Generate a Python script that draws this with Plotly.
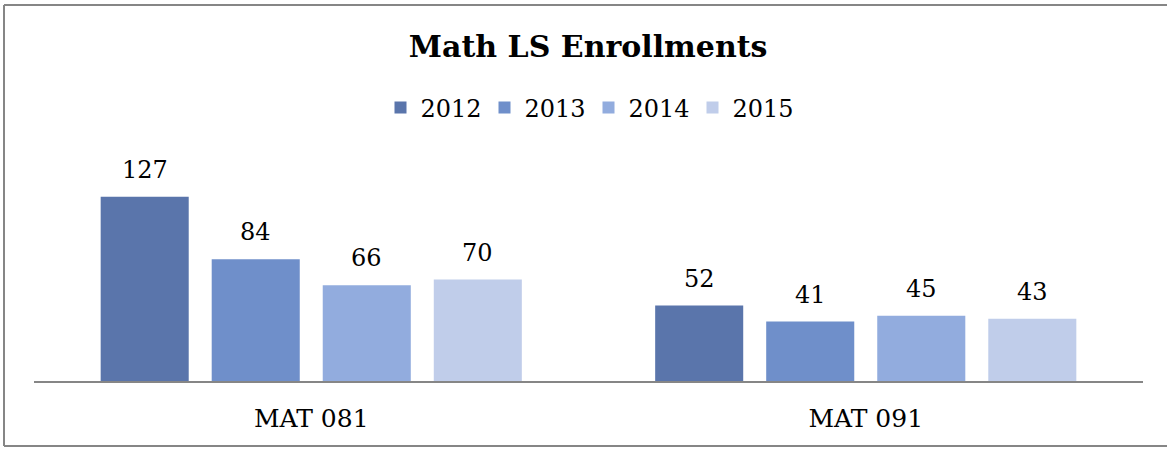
import plotly.graph_objects as go

categories = ["MAT 081", "MAT 091"]
years = ["2012", "2013", "2014", "2015"]
values_2012 = [127, 52]
values_2013 = [84, 41]
values_2014 = [66, 45]
values_2015 = [70, 43]
series = [values_2012, values_2013, values_2014, values_2015]
colors = ["#5A75AB", "#6F8FCA", "#92ACDE", "#C0CDEA"]

FONT = "DejaVu Serif"
W, H = 1167, 449
ML, MR, MT, MB = 34, 24, 150, 68
BARGAP = 0.199
GROUPGAP = 0.207

fig = go.Figure()
for yr, vals, col in zip(years, series, colors):
    fig.add_trace(go.Bar(name=yr, x=categories, y=vals, marker=dict(color=col, line=dict(width=0))))

# value labels above bars
n = len(series)
slot = (1 - BARGAP) / n
for i, vals in enumerate(series):
    for j, v in enumerate(vals):
        fig.add_annotation(x=j + (i - (n - 1) / 2) * slot, y=v, text=str(v), showarrow=False,
                           xref="x", yref="y", yanchor="bottom", yshift=11,
                           font=dict(family=FONT, size=24, color="#000000"))

pw = W - ML - MR
ph = H - MT - MB
bx0, bx1 = (4 - ML) / pw, (1200 - ML) / pw
by0, by1 = (H - MB - 446) / ph, (H - MB - 5) / ph
border = dict(color="#868686", width=2)
for (x0, y0, x1, y1) in [(bx0, by0, bx0, by1), (bx0, by1, bx1, by1), (bx0, by0, bx1, by0)]:
    fig.add_shape(type="line", xref="paper", yref="paper", x0=x0, y0=y0, x1=x1, y1=y1,
                  line=border, layer="below")

fig.update_layout(
    width=W, height=H,
    margin=dict(l=ML, r=MR, t=MT, b=MB),
    paper_bgcolor="white", plot_bgcolor="white",
    barmode="group", bargap=BARGAP, bargroupgap=GROUPGAP,
    title=dict(text="<b>Math LS Enrollments</b>", x=0.504, xanchor="center", y=1 - 46 / H, yanchor="middle",
               font=dict(family=FONT, size=30, color="#000000")),
    legend=dict(orientation="h", x=0.5, xanchor="center", y=(H - MB - 108) / ph, yanchor="middle",
                font=dict(family=FONT, size=24, color="#000000"),
                entrywidth=59, entrywidthmode="pixels", itemwidth=30, bgcolor="rgba(0,0,0,0)"),
    showlegend=True,
    font=dict(family=FONT, color="#000000"),
)
fig.update_xaxes(showline=True, linecolor="#868686", linewidth=2, showgrid=False, ticks="",
                 tickfont=dict(family=FONT, size=25, color="#000000"), ticklabelstandoff=14)
fig.update_yaxes(range=[0, ph / 1.45], visible=False, showgrid=False, zeroline=False)

fig.write_html("out.html", config={"displayModeBar": False},
               post_script="document.body.style.margin='0';")
